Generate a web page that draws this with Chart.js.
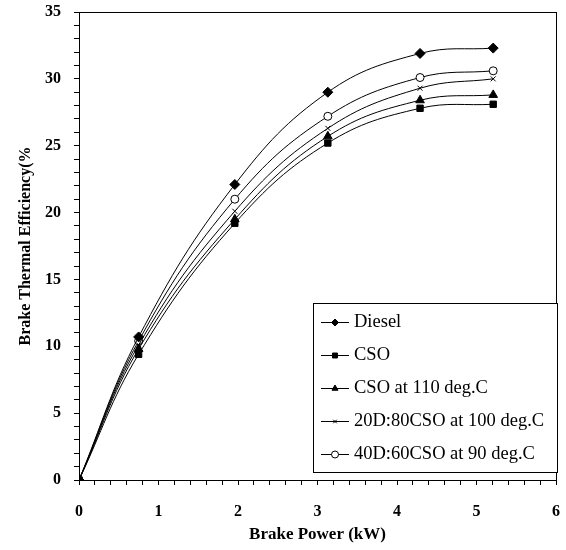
<!DOCTYPE html>
<html>
<head>
<meta charset="utf-8">
<script src="https://cdn.jsdelivr.net/npm/chart.js@4.4.1/dist/chart.umd.min.js"></script>
<style>
  html, body { margin: 0; padding: 0; background: #fff; }
  #wrap { width: 566px; height: 550px; position: relative; }
</style>
</head>
<body>
<div id="wrap"><canvas id="bte"></canvas></div>
<script>
  // Brake thermal efficiency vs brake power.
  var powerKW = [0, 0.75, 1.96, 3.13, 4.29, 5.21];
  var dieselBTE = [0, 10.7, 22.1, 29.0, 31.9, 32.3];
  var csoBTE = [0, 9.4, 19.2, 25.2, 27.8, 28.1];
  var cso110BTE = [0, 9.8, 19.5, 25.7, 28.4, 28.8];
  var blend20BTE = [0, 10.1, 20.1, 26.3, 29.3, 30.0];
  var blend40BTE = [0, 10.4, 21.0, 27.2, 30.1, 30.6];

  var seriesNames = ["Diesel", "CSO", "CSO at 110 deg.C", "20D:80CSO at 100 deg.C", "40D:60CSO at 90 deg.C"];
  var xTickLabels = ["0", "1", "2", "3", "4", "5", "6"];
  var yTickLabels = ["0", "5", "10", "15", "20", "25", "30", "35"];

  var SERIF = "'Liberation Serif', 'Times New Roman', serif";

  function points(values) {
    return values.map(function (v, i) { return { x: powerKW[i], y: v }; });
  }

  function series(label, values, style, radius, fill) {
    return {
      label: label,
      data: points(values),
      showLine: true,
      borderColor: "#000",
      borderWidth: 1,
      tension: 0.4,
      pointStyle: style,
      pointRadius: radius,
      pointBackgroundColor: fill,
      pointBorderColor: "#000",
      pointBorderWidth: 1,
    };
  }

  var datasets = [
    series(seriesNames[0], dieselBTE, "rectRot", 5, "#000"),
    series(seriesNames[1], csoBTE, "rect", 4.5, "#000"),
    series(seriesNames[2], cso110BTE, "triangle", 5, "#000"),
    series(seriesNames[3], blend20BTE, "crossRot", 3.5, "#000"),
    series(seriesNames[4], blend40BTE, "circle", 4, "#fff"),
  ];

  function nearInt(v, step) {
    var q = v / step;
    return Math.abs(q - Math.round(q)) < 1e-6;
  }

  // Box round the plot area, like the Excel frame.
  var framePlugin = {
    id: "frame",
    afterDraw: function (chart) {
      var a = chart.chartArea, ctx = chart.ctx;
      ctx.save();
      ctx.strokeStyle = "#000";
      ctx.lineWidth = 1;
      ctx.strokeRect(Math.round(a.left) + 0.5, Math.round(a.top) + 0.5,
        Math.round(a.right - a.left), Math.round(a.bottom - a.top));
      ctx.restore();
    },
  };

  // Boxed legend sitting inside the plot, lower right.
  var boxLegendPlugin = {
    id: "boxLegend",
    afterDraw: function (chart, _args, opts) {
      var ctx = chart.ctx;
      var x = opts.x, y = opts.y, w = opts.width, rowH = opts.rowHeight;
      var h = rowH * chart.data.datasets.length + opts.padY * 2;
      ctx.save();
      ctx.fillStyle = "#fff";
      ctx.fillRect(x, y, w, h);
      ctx.strokeStyle = "#000";
      ctx.lineWidth = 1;
      ctx.strokeRect(x + 0.5, y + 0.5, w, h);
      ctx.font = opts.font;
      ctx.textBaseline = "middle";
      ctx.textAlign = "left";
      chart.data.datasets.forEach(function (ds, i) {
        var cy = y + opts.padY + rowH * i + rowH / 2;
        var lx = x + 8;
        ctx.strokeStyle = "#000";
        ctx.lineWidth = 1;
        ctx.beginPath();
        ctx.moveTo(lx, Math.round(cy) + 0.5);
        ctx.lineTo(lx + 28, Math.round(cy) + 0.5);
        ctx.stroke();
        ctx.fillStyle = ds.pointBackgroundColor;
        Chart.helpers.drawPoint(ctx, {
          pointStyle: ds.pointStyle,
          radius: ds.pointStyle === "crossRot" ? 2.5 : 3.5,
          rotation: 0,
          borderWidth: 1,
        }, lx + 14, Math.round(cy) + 0.5);
        ctx.fillStyle = "#000";
        ctx.fillText(ds.label, lx + 33, cy + 1);
      });
      ctx.restore();
    },
  };

  new Chart(document.getElementById("bte"), {
    type: "scatter",
    data: { datasets: datasets },
    plugins: [framePlugin, boxLegendPlugin],
    options: {
      responsive: true,
      maintainAspectRatio: false,
      animation: false,
      layout: { padding: { top: 12, right: 10, left: 16, bottom: 5 } },
      scales: {
        x: {
          type: "linear",
          min: 0,
          max: 6,
          border: { color: "#000", width: 1 },
          grid: { drawOnChartArea: false, tickLength: 5, tickColor: "#000" },
          ticks: {
            stepSize: 0.2,
            autoSkip: false,
            maxRotation: 0,
            color: "#000",
            padding: 17,
            font: { family: SERIF, size: 16, weight: "bold" },
            callback: function (v) {
              return nearInt(v, 1) ? xTickLabels[Math.round(v)] : "";
            },
          },
          title: {
            display: true,
            text: "Brake Power (kW)",
            color: "#000",
            padding: { top: 3, bottom: 0 },
            font: { family: SERIF, size: 17, weight: "bold" },
          },
          // Fixed band; edge labels must not shrink the plot area.
          afterFit: function (scale) {
            scale.height = 65;
            scale.paddingLeft = 0;
            scale.paddingRight = 0;
          },
        },
        y: {
          type: "linear",
          min: 0,
          max: 35,
          border: { color: "#000", width: 1 },
          grid: { drawOnChartArea: false, tickLength: 5, tickColor: "#000" },
          ticks: {
            stepSize: 1,
            autoSkip: false,
            color: "#000",
            padding: 13,
            font: { family: SERIF, size: 16, weight: "bold" },
            callback: function (v) {
              return nearInt(v, 5) ? yTickLabels[Math.round(v / 5)] : "";
            },
          },
          title: {
            display: true,
            text: "Brake Thermal Efficiency(%",
            color: "#000",
            padding: { top: 0, bottom: 8 },
            font: { family: SERIF, size: 16, weight: "bold" },
          },
          afterFit: function (scale) {
            scale.width = 63;
            scale.paddingTop = 0;
            scale.paddingBottom = 0;
          },
        },
      },
      plugins: {
        legend: { display: false },
        tooltip: { enabled: false },
        boxLegend: {
          x: 313,
          y: 303,
          width: 244,
          rowHeight: 33,
          padY: 2,
          font: "18.5px " + SERIF,
        },
      },
    },
  });
</script>
</body>
</html>
